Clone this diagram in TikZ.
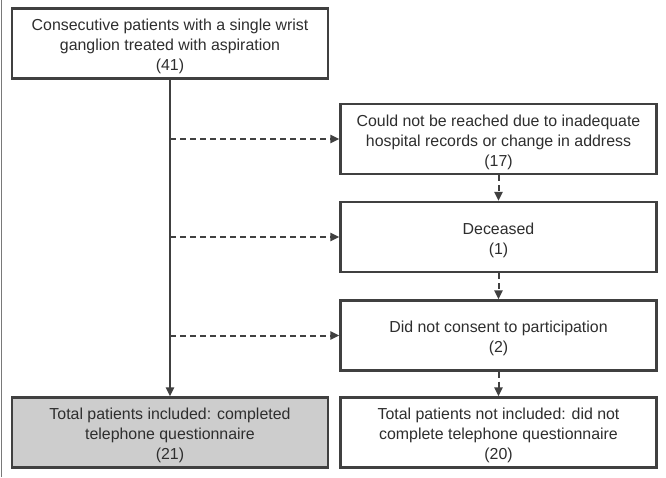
\documentclass[tikz,border=0pt]{standalone}
\usepackage{fontspec}
\setmainfont{Liberation Sans}
\usetikzlibrary{arrows.meta}
\definecolor{ln}{HTML}{404040}
\definecolor{tx}{HTML}{2E2E2E}
\definecolor{gfill}{HTML}{CDCDCD}
\begin{document}
\begin{tikzpicture}[x=1pt,y=-1pt,
  box/.style={draw=ln,line width=2.2pt,minimum width=316pt,minimum height=70pt,inner sep=0pt},
  txt/.style={align=center,text=tx,font=\fontsize{15.9}{20}\selectfont,inner sep=0pt,yshift=-3pt},
  arr/.style={draw=ln,line width=2pt,-{Triangle[length=9pt,width=8pt]}},
  darr/.style={arr,dash pattern=on 6pt off 4pt}]
\useasboundingbox (0,0) rectangle (666,477);
\fill[white] (0,0) rectangle (666,477);
\draw[ln!70,line width=1.5pt] (1.5,0) -- (1.5,477);
\node[box] (top) at (170,43.5) {};
\node[txt] (topt) at (top.center) {Consecutive patients with a single wrist\\ganglion treated with aspiration\\(41)};
\node[box] (r1) at (498.5,139) {};
\node[txt] (r1t) at (r1.center) {Could not be reached due to inadequate\\hospital records or change in address\\(17)};
\node[box] (r2) at (498.5,237) {};
\node[txt] (r2t) at (r2.center) {Deceased\\(1)};
\node[box] (r3) at (498.5,335.5) {};
\node[txt] (r3t) at (r3.center) {Did not consent to participation\\(2)};
\node[box] (r4) at (498.5,432.5) {};
\node[txt] (r4t) at (r4.center) {Total patients not included: did not\\complete telephone questionnaire\\(20)};
\node[box,fill=gfill] (inc) at (170,432.5) {};
\node[txt] (inct) at (inc.center) {Total patients included: completed\\telephone questionnaire\\(21)};
\coordinate (j1) at (top.south |- r1.west);
\coordinate (j2) at (top.south |- r2.west);
\coordinate (j3) at (top.south |- r3.west);
\draw[arr] (top.south) -- (inc.north);
\draw[darr] (j1) -- (r1.west);
\draw[darr] (j2) -- (r2.west);
\draw[darr] (j3) -- (r3.west);
\draw[darr] (r1.south) -- (r2.north);
\draw[darr] (r2.south) -- (r3.north);
\draw[darr] (r3.south) -- (r4.north);
\end{tikzpicture}
\end{document}
